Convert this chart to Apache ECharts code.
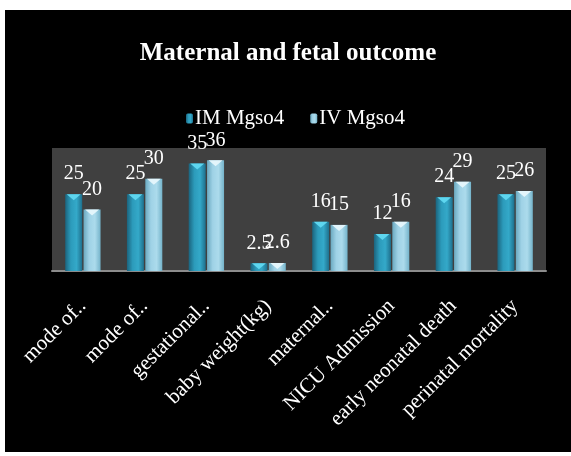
<!DOCTYPE html>
<html>
<head>
<meta charset="utf-8">
<script src="https://cdn.jsdelivr.net/npm/echarts@6/dist/echarts.min.js"></script>
<style>
  html, body { margin: 0; padding: 0; background: #ffffff; width: 571px; height: 456px; overflow: hidden; }
  #chart { position: absolute; left: 5px; top: 10px; width: 566px; height: 442px; background: #000; }
</style>
</head>
<body>
<div id="chart"></div>
<script>
const categories = ["mode of..", "mode of..", "gestational..", "baby weight(kg)", "maternal..", "NICU Admission", "early neonatal death", "perinatal mortality"];
const seriesNames = ["IM Mgso4", "IV Mgso4"];
const imValues = [25, 25, 35, 2.5, 16, 12, 24, 25];
const ivValues = [20, 30, 36, 2.6, 15, 16, 29, 26];

const FONT = "'Liberation Serif', 'Times New Roman', serif";
const chart = echarts.init(document.getElementById('chart'), null, { renderer: 'canvas' });

function hGrad(stops) {
  return new echarts.graphic.LinearGradient(0, 0, 1, 0, stops.map((c, i) => ({ offset: i / (stops.length - 1), color: c })));
}
const imColor = hGrad(['#1b647e', '#2c9bbb', '#34a9c9', '#1e6f8c']);
const ivColor = hGrad(['#6aa9c0', '#9fd2e6', '#acdbec', '#74b3ca']);

const BW = 17, GAP = '8%';
const labelCfg = { show: true, position: 'top', distance: 10, color: '#ffffff', fontFamily: FONT, fontSize: 20 };

chart.setOption({
  backgroundColor: '#000000',
  animation: false,
  title: {
    text: 'Maternal and fetal outcome',
    left: 'center', top: 26,
    textStyle: { color: '#ffffff', fontFamily: FONT, fontSize: 25, fontWeight: 'bold' }
  },
  legend: {
    data: seriesNames,
    top: 93, left: 176,
    itemWidth: 7, itemHeight: 10, itemGap: 26,
    textStyle: { color: '#ffffff', fontFamily: FONT, fontSize: 21, padding: [0, 0, 0, -3] }
  },
  grid: {
    left: 47, right: 25, top: 138, bottom: 181,
    show: true, backgroundColor: '#404040', borderWidth: 0,
    containLabel: false
  },
  xAxis: {
    type: 'category',
    data: categories,
    axisLine: { show: true, lineStyle: { color: '#8c8c8c', width: 2 } },
    axisTick: { show: false },
    axisLabel: { interval: 0, rotate: 45, color: '#ffffff', fontFamily: FONT, fontSize: 21, margin: 32 }
  },
  yAxis: {
    type: 'value', min: 0, max: 40, interval: 10,
    show: false,
    splitLine: { show: false }
  },
  series: [
    { name: seriesNames[0], type: 'bar', data: imValues, barWidth: BW, barGap: GAP, itemStyle: { color: imColor }, label: labelCfg, z: 2 },
    { name: seriesNames[1], type: 'bar', data: ivValues, barWidth: BW, barGap: GAP, itemStyle: { color: ivColor }, label: labelCfg, z: 2 },
    { name: 'capIM', type: 'pictorialBar', data: imValues, barWidth: BW, barGap: GAP, symbol: 'triangle', symbolRotate: 180,
      symbolSize: [14, 6], symbolPosition: 'end', symbolOffset: [0, 0], itemStyle: { color: '#5ed6ef' }, silent: true, z: 3 },
    { name: 'capIV', type: 'pictorialBar', data: ivValues, barWidth: BW, barGap: GAP, symbol: 'triangle', symbolRotate: 180,
      symbolSize: [14, 6], symbolPosition: 'end', symbolOffset: [0, 0], itemStyle: { color: '#e3f5fb' }, silent: true, z: 3 }
  ]
});
</script>
</body>
</html>
